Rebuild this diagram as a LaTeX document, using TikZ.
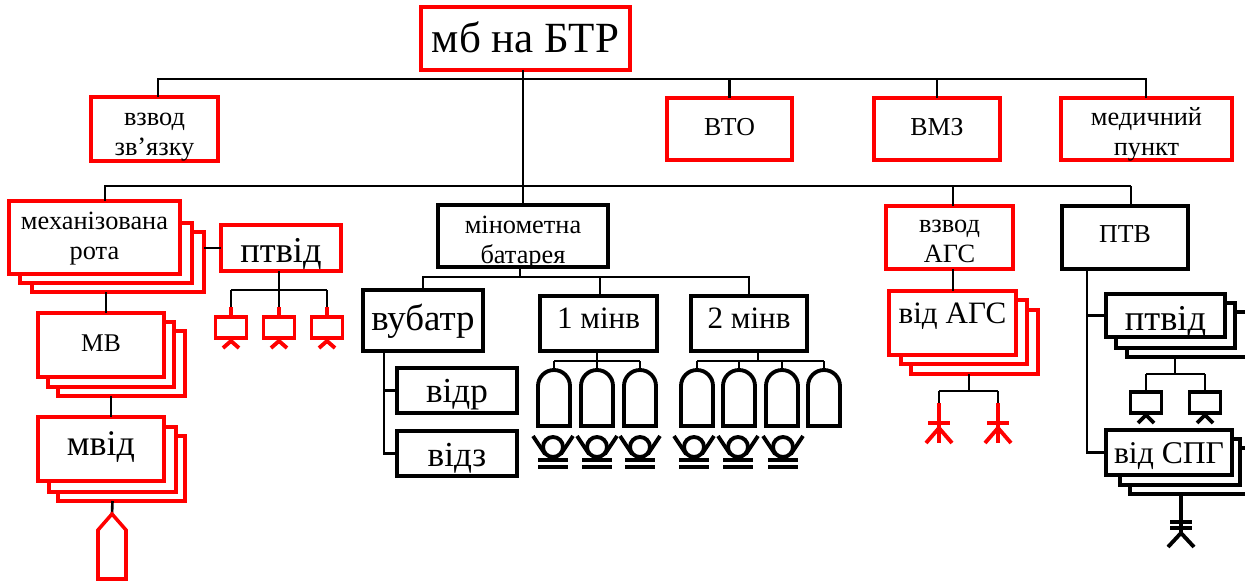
\documentclass[tikz,border=0pt]{standalone}
\usepackage{fontspec}
\setmainfont{Liberation Serif}
\tikzset{
  wh/.style 2 args={minimum width=#1*0.02cm,minimum height=#2*0.02cm},
  base/.style={text height=2*#1*0.02cm,text depth=0pt},
  sz/.style={font=\fontsize{#1}{#1}\selectfont},
  two/.style={font=\fontsize{15}{17}\selectfont,align=center},
  redbox/.style={draw=red,line width=2pt,fill=white,inner sep=0pt,outer sep=0pt},
  blkbox/.style={draw=black,line width=2.2pt,fill=white,inner sep=0pt,outer sep=0pt},
  conn/.style={draw=black,line width=1.5pt},
  sym/.style={line width=2.2pt},
  redsym/.style={draw=red,line width=2.2pt}
}
\begin{document}
\begin{tikzpicture}[x=0.02cm,y=-0.02cm]
\useasboundingbox (0,0) rectangle (1245,581);
% top row
\node [redbox,line width=2.5pt,wh={209}{63},base=14.5,sz=24.5] (mb) at (525.5,38.5) {мб на БТР};
\node [redbox,wh={127}{64},two,base=26] (svz) at (154.5,129) {взвод\\зв’язку};
\node [redbox,wh={125}{62},base=7,sz=14.7] (vto) at (729.5,129) {ВТО};
\node [redbox,wh={126}{62},base=7,sz=14.7] (vmz) at (937,129) {ВМЗ};
\node [redbox,wh={171}{62},two,base=26] (med) at (1146.5,129) {медичний\\пункт};
% second row
\coordinate (busa) at (158,79);
\coordinate (busb) at (1146,79);
\coordinate (busm) at (523,79);
\coordinate (busc) at (105,186);
\coordinate (busd) at (1131,186);
\coordinate (buse) at (953,186);
\draw [conn] (busm |- mb.south) -- (busm |- busc);
\draw [conn] (busa |- svz.north) -- (busa) -- (busb) -- (busb |- med.north);
\draw [conn] (vto.north) -- (vto.north |- busa);
\draw [conn] (vmz.north) -- (vmz.north |- busa);
% rota
\node [redbox,wh={172}{60}] (rotac) at (118,262) {};
\node [redbox,wh={172}{60}] (rotab) at (106,253) {};
\node [redbox,wh={171}{73},two,base=21.5] (rota) at (94.5,237.5) {механізована\\рота};
\node [redbox,wh={120}{46},base=14,sz=20.7] (rptv) at (281,248) {птвід};
\draw [conn] (busc |- rota.north) -- (busc) -- (busd);
\draw [conn] (rotac.east |- rptv.west) -- (rptv.west);
% mv
\node [redbox,wh={127}{65}] (mvc) at (121.5,363.5) {};
\node [redbox,wh={126}{65}] (mvb) at (111,354.5) {};
\node [redbox,wh={126}{64},base=6,sz=14.5] (mv) at (101,345) {МВ};
\draw [conn] (rotab.south |- rotac.south) -- (rotab.south |- mv.north);
% mvid
\node [redbox,wh={127}{65}] (mvidc) at (121.5,468.5) {};
\node [redbox,wh={127}{65}] (mvidb) at (112.5,459.5) {};
\node [redbox,wh={126}{64},base=6,sz=20.5] (mvid) at (101,449) {мвід};
\draw [conn] (mvb.south |- mvc.south) -- (mvb.south |- mvid.north);
\coordinate (shellr) at (112,514);
\draw [conn] (mvidb.south |- mvidc.south) -- (shellr);
\draw [draw=red,line width=2pt,fill=white] (shellr) -- (126,530) -- (126,579) -- (98,579) -- (98,530) -- cycle;
% atgm of the company
\coordinate (rbus) at (279,290);
\draw [conn] (rbus |- rptv.south) -- (rbus);
\foreach \n/\x in {a/231,b/279,c/327}{
  \node [redbox,wh={31}{21}] (rg\n) at (\x,327.5) {};
  \coordinate (rs\n) at (\x,307);
  \draw [conn] (rs\n |- rbus) -- (rs\n);
  \draw [redsym] (rs\n) -- (rg\n.north);
  \draw [redsym] (\x-8,348) -- (\x,341) -- (\x+8,348);
}
\draw [conn] (rga.north |- rbus) -- (rgc.north |- rbus);
% battery
\node [blkbox,wh={170}{62},two,base=27] (bat) at (523,236) {мінометна\\батарея};
\node [blkbox,wh={120}{61},base=9.5,sz=21] (vub) at (423,320.5) {вубатр};
\node [blkbox,wh={117}{55},base=5,sz=17.7] (mina) at (598.5,323.5) {1 мінв};
\node [blkbox,wh={116}{55},base=5,sz=17.7] (minb) at (749,323.5) {2 мінв};
\node [blkbox,wh={120}{45},base=12,sz=20] (vidr) at (457,390.5) {відр};
\node [blkbox,wh={120}{45},base=12.5,sz=20] (vidz) at (457,453.5) {відз};
\draw [conn] (busm |- busc) -- (bat.north);
\coordinate (vbus) at (520,277);
\coordinate (vbusm) at (600,277);
\coordinate (vspine) at (384,351);
\draw [conn] (vbus |- bat.south) -- (vbus);
\draw [conn] (vub.north) |- (vbus) -| (minb.north);
\draw [conn] (vbusm) -- (vbusm |- mina.north);
\draw [conn] (vspine) |- (vidz.west);
\draw [conn] (vspine |- vidr.west) -- (vidr.west);
% mortars
\coordinate (mbusa) at (597,361);
\coordinate (mbusb) at (758,361);
\draw [conn] (mbusa |- mina.south) -- (mbusa);
\draw [conn] (mbusb |- minb.south) -- (mbusb);
\foreach \x in {554,597,640,697,739,782,824}{
  \coordinate (sh\x) at (\x,370);
  \draw [sym,fill=white] (\x-16,426) -- (\x-16,386) arc [start angle=180,end angle=360,radius=16] -- (\x+16,426) -- cycle;
  \draw [conn] (sh\x) -- (\x,361);
}
\draw [conn] (554,361) -- (640,361);
\draw [conn] (697,361) -- (824,361);
\foreach \x in {553,597,640,694,738,783}{
  \draw [sym] (\x,447) circle (10);
  \draw [sym] (\x-20,436) -- (\x-8,454);
  \draw [sym] (\x+20,436) -- (\x+8,454);
  \draw [sym] (\x-15,460) -- (\x+15,460);
  \draw [sym] (\x-15,467) -- (\x+15,467);
}
% ags
\node [redbox,wh={127}{63},two,base=24.5] (ags) at (949.5,237.5) {взвод\\АГС};
\draw [conn] (buse) -- (buse |- ags.north);
\node [redbox,wh={127}{64}] (vagsc) at (974.5,342) {};
\node [redbox,wh={126}{64}] (vagsb) at (964,332) {};
\node [redbox,wh={127}{64},base=0,sz=17.7] (vags) at (952.5,323) {від АГС};
\draw [conn] (buse |- ags.south) -- (buse |- vags.north);
\coordinate (abus) at (969,391);
\draw [conn] (abus) -- (abus |- vagsc.south);
\draw [conn] (939,391) -- (998,391);
\foreach \n/\x in {a/939,b/998}{
  \coordinate (as\n) at (\x,403);
  \draw [conn] (as\n) -- (\x,391);
  \draw [redsym] (as\n) -- (\x,443);
  \draw [redsym] (\x-11,423) -- (\x+11,423);
  \draw [redsym] (\x-13,443) -- (\x,428) -- (\x+13,443);
}
% ptv
\node [blkbox,wh={126}{63},base=5,sz=14.7] (ptv) at (1125,237.5) {ПТВ};
\draw [conn] (busd) -- (busd |- ptv.north);
\node [blkbox,wh={138}{45}] (pvidc) at (1196,334.5) {};
\node [blkbox,wh={119}{45}] (pvidb) at (1175.5,325.5) {};
\node [blkbox,wh={119}{43},base=14.5,sz=20.7] (pvid) at (1165.5,315.5) {птвід};
\coordinate (pspine) at (1087,269);
\draw [conn] (pspine |- pvid.west) -- (pvid.west);
\coordinate (pbus) at (1175,374);
\draw [conn] (pbus) -- (pbus |- pvidc.south);
\foreach \n/\x in {a/1146,b/1205}{
  \node [blkbox,wh={31}{21}] (pg\n) at (\x,402.5) {};
  \draw [conn] (pg\n.north) -- (\x,374);
  \draw [sym] (\x-8,423) -- (\x,415) -- (\x+8,423);
}
\draw [conn] (pga.north |- pbus) -- (pgb.north |- pbus);
\node [blkbox,wh={135}{46}] (spgc) at (1197.5,471) {};
\node [blkbox,wh={120}{46}] (spgb) at (1180,462) {};
\node [blkbox,wh={126}{45},base=10.5,sz=18] (spg) at (1169,452.5) {від СПГ};
\draw [conn] (pspine) |- (spg.west);
\coordinate (spgs) at (1181,533);
\draw [sym] (spgs |- spgc.south) -- (spgs);
\draw [sym] (1170,522) -- (1192,522);
\draw [sym] (1170,528) -- (1192,528);
\draw [sym] (1168,547) -- (spgs) -- (1194,547);
\end{tikzpicture}
\end{document}
